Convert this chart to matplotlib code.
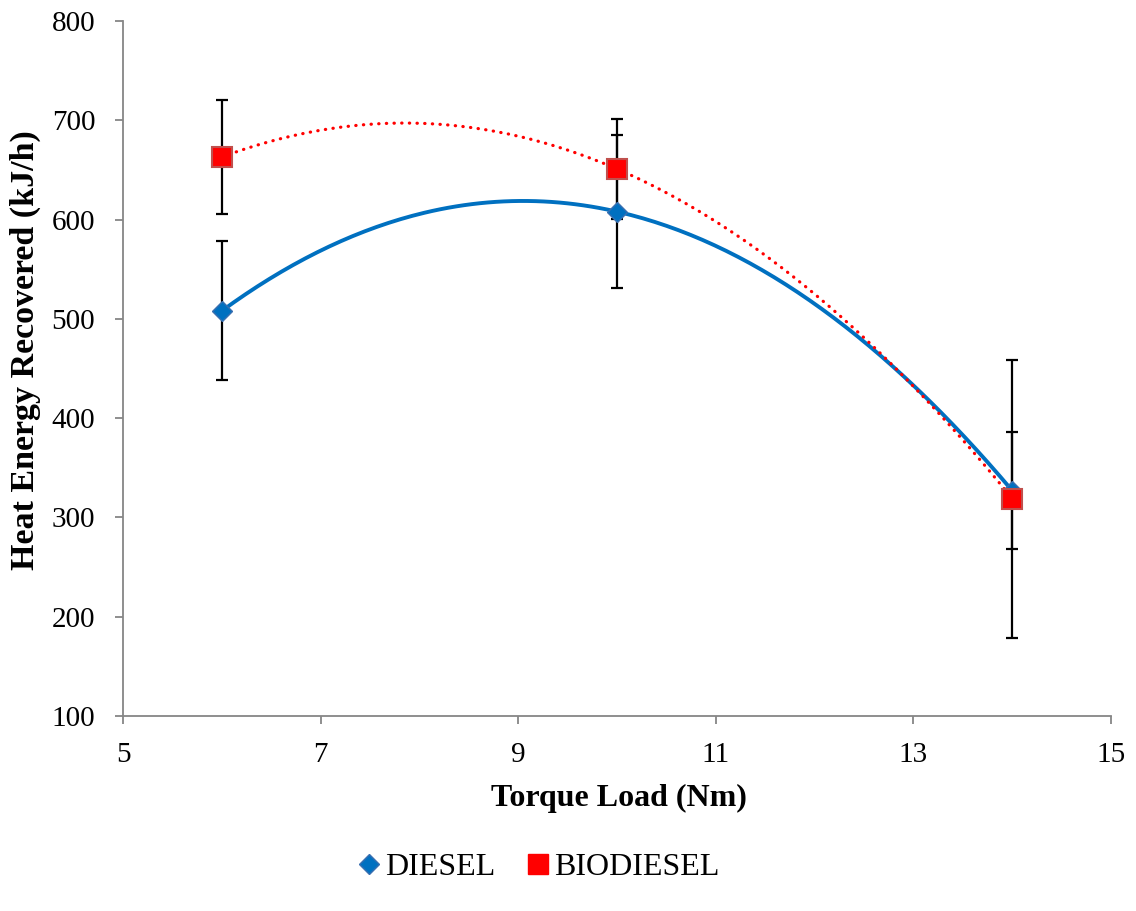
import numpy as np
import matplotlib
matplotlib.use("Agg")
import matplotlib.pyplot as plt
from matplotlib.lines import Line2D

plt.rcParams["font.family"] = ["Liberation Serif", "DejaVu Serif"]

torque = [6, 10, 14]
diesel = [508, 608, 327]
diesel_err = [70, 77, 59]
biodiesel = [663, 651, 319]
biodiesel_err = [57, 50, 140]

blue = "#0070C0"
red = "#FF0000"

fig = plt.figure(figsize=(11.36, 9.11), dpi=100)
ax = fig.add_axes([123/1136, 1-716/911, (1111-123)/1136, (716-21)/911])

# polynomial (order 2) trendlines, like the spreadsheet
xs = np.linspace(min(torque), max(torque), 200)
pd_ = np.polyfit(torque, diesel, 2)
pb_ = np.polyfit(torque, biodiesel, 2)

ax.errorbar(torque, diesel, yerr=diesel_err, fmt="none", ecolor="black",
            elinewidth=1.6, capsize=4.5, capthick=1.6, zorder=2)
ax.errorbar(torque, biodiesel, yerr=biodiesel_err, fmt="none", ecolor="black",
            elinewidth=1.6, capsize=4.5, capthick=1.6, zorder=2)

ax.plot(xs, np.polyval(pd_, xs), color=blue, lw=2.8, zorder=3)
ax.plot(xs, np.polyval(pb_, xs), color=red, lw=2.3, ls=(0, (0.1, 2.3)),
        dash_capstyle="round", zorder=3)

ax.plot(torque, diesel, ls="none", marker="D", ms=10, color=blue,
        mec="#3A6FB0", mew=1, zorder=4)
ax.plot(torque, biodiesel, ls="none", marker="s", ms=14, color=red,
        mec="#C0504D", mew=1.5, zorder=5)

ax.set_xlim(5, 15)
ax.set_ylim(100, 800)
ax.set_xticks([5, 7, 9, 11, 13, 15])
ax.set_yticks(range(100, 801, 100))
for s in ["top", "right"]:
    ax.spines[s].set_visible(False)
for s in ["left", "bottom"]:
    ax.spines[s].set_color("#868686")
    ax.spines[s].set_linewidth(1.3)
ax.tick_params(axis="both", direction="out", length=6, width=1.3,
               color="#868686", labelsize=21)
ax.tick_params(axis="y", pad=14)
ax.tick_params(axis="x", pad=13)

fig.text(619/1136, 1-798/911, "Torque Load (Nm)", fontsize=23, fontweight="bold",
         ha="center", va="center")
fig.text(25/1136, 1-350/911, "Heat Energy Recovered (kJ/h)", fontsize=24.5,
         fontweight="bold", rotation=90, ha="center", va="center")

handles = [Line2D([], [], ls="none", marker="D", ms=10, color=blue, mec="#3A6FB0"),
           Line2D([], [], ls="none", marker="s", ms=14, color=red, mec=red)]
fig.legend(handles, ["DIESEL", "BIODIESEL"], loc="center", bbox_to_anchor=(0.475, 1-867/911),
           ncol=2, frameon=False, fontsize=23, handletextpad=0.2, columnspacing=1.05,
           handlelength=0.6)

fig.savefig("out.png", dpi=100)
